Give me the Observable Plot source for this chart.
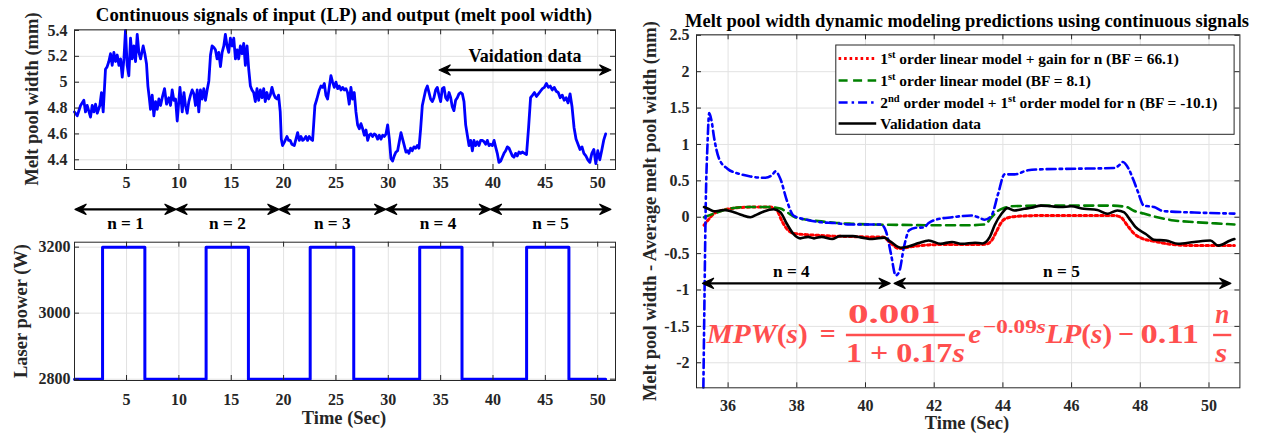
<!DOCTYPE html>
<html><head><meta charset="utf-8">
<script src="https://cdn.jsdelivr.net/npm/d3@7"></script>
<script src="https://cdn.jsdelivr.net/npm/@observablehq/plot@0.6"></script>
<style>
body{margin:0;background:#fff;}
#wrap{position:relative;width:1263px;height:439px;overflow:hidden;background:#fff;}
#wrap svg, #wrap svg g, #wrap svg text{font-family:"Liberation Serif","Times New Roman",serif !important;font-weight:bold;}
</style></head><body><div id="wrap"></div>
<script>
// ---------------- DATA ----------------
const leftTimeTicks = [5,10,15,20,25,30,35,40,45,50];
const widthTicks = [4.4,4.6,4.8,5,5.2,5.4];
const powerTicks = [2800,3000,3200];
const rightTimeTicks = [36,38,40,42,44,46,48,50];
const deviationTicks = [-2,-1.5,-1,-0.5,0,0.5,1,1.5,2,2.5];

// melt pool width (mm) vs time (s) : [time, width]
const meltPoolWidth = [
[0.03,4.77],[0.29,4.74],[0.61,4.82],[0.92,4.86],[1.08,4.77],[1.24,4.82],[1.56,4.73],[1.72,4.82],[1.88,4.77],[2.04,4.83],
[2.2,4.76],[2.45,4.82],[2.61,4.92],[2.77,4.77],[2.99,5.10],[3.15,5.12],[3.31,5.16],[3.47,5.22],[3.63,5.13],[3.79,5.23],
[3.95,5.16],[4.11,5.21],[4.27,5.13],[4.43,5.18],[4.59,5.04],[4.75,5.18],[4.9,5.40],[5.06,5.13],[5.22,5.05],[5.38,5.34],
[5.54,5.18],[5.7,5.28],[5.86,5.16],[6.02,5.37],[6.18,5.23],[6.34,5.18],[6.59,5.28],[6.75,5.22],[6.91,5.14],[7.04,4.97],
[7.17,4.88],[7.29,4.79],[7.45,4.90],[7.61,4.74],[7.77,4.85],[7.93,4.79],[8.09,4.87],[8.25,4.82],[8.41,4.88],[8.63,4.95],
[8.82,4.83],[9.04,4.88],[9.2,4.82],[9.36,4.94],[9.52,4.86],[9.68,4.87],[9.84,4.70],[10.1,4.96],
[10.32,4.77],[10.48,4.92],[10.63,4.82],[10.79,4.76],[10.95,4.85],[11.11,4.90],[11.27,4.94],[11.43,4.91],[11.59,4.82],[11.75,4.94],
[11.9,4.77],[12.06,4.94],[12.22,4.87],[12.38,4.95],[12.54,4.86],[12.7,4.94],[12.86,5.01],[13.02,5.21],[13.17,5.28],[13.33,5.27],
[13.49,5.25],[13.65,5.18],[13.81,5.23],[13.97,5.12],[14.13,5.23],[14.29,5.28],[14.44,5.37],[14.6,5.28],[14.76,5.23],[14.92,5.34],
[15.08,5.28],[15.24,5.34],[15.4,5.18],[15.56,5.25],[15.71,5.18],[15.87,5.28],[16.03,5.22],[16.19,5.30],[16.35,5.13],[16.51,5.28],
[16.67,5.10],[16.83,4.97],[16.98,4.94],[17.14,4.92],[17.3,4.85],[17.46,4.95],[17.62,4.86],[17.78,4.94],[17.94,4.88],[18.1,4.95],
[18.25,4.85],[18.41,4.92],[18.57,4.87],[18.73,4.90],[18.89,4.96],[19.05,4.91],[19.21,4.88],[19.37,4.87],[19.52,4.90],[19.68,4.77],
[19.78,4.56],[19.9,4.51],[20.1,4.54],[20.32,4.58],[20.48,4.55],[20.63,4.55],[20.79,4.52],
[21.02,4.51],[21.18,4.56],[21.34,4.61],[21.5,4.55],[21.66,4.58],[21.82,4.55],[21.97,4.56],[22.13,4.58],[22.29,4.55],[22.45,4.58],
[22.61,4.56],[22.77,4.55],[22.87,4.67],[22.99,4.82],[23.18,4.87],[23.41,4.94],[23.57,4.97],[23.73,4.96],[23.89,4.99],[24.04,4.90],
[24.2,4.87],[24.36,4.96],[24.52,5.05],[24.68,5.00],[24.84,4.96],[25.0,5.00],[25.16,4.95],[25.32,4.97],[25.48,4.94],[25.64,4.96],
[25.8,4.94],[25.96,4.95],[26.11,4.92],[26.27,4.83],[26.43,4.96],[26.59,4.87],[26.75,4.92],[26.91,4.77],[27.07,4.67],[27.23,4.64],
[27.39,4.68],[27.55,4.64],[27.71,4.59],[27.87,4.63],[28.03,4.55],[28.18,4.59],[28.34,4.60],[28.5,4.58],[28.66,4.60],[28.82,4.59],
[28.98,4.56],[29.14,4.59],[29.3,4.56],[29.46,4.59],[29.62,4.58],[29.78,4.60],[29.94,4.67],[30.1,4.56],[30.25,4.41],[30.41,4.39],
[30.57,4.43],[30.73,4.46],[30.89,4.47],[31.05,4.54],[31.21,4.61],[31.37,4.56],[31.53,4.51],[31.69,4.46],[31.85,4.47],
[31.97,4.45],[32.13,4.49],[32.29,4.47],[32.45,4.50],[32.61,4.49],[32.77,4.51],[32.93,4.49],[33.09,4.64],[33.25,4.82],[33.41,4.88],
[33.57,4.94],[33.73,4.97],[33.89,4.92],[34.04,4.87],[34.2,4.85],[34.36,4.88],[34.52,4.94],[34.68,4.96],[34.84,4.90],[35.0,4.85],
[35.16,4.95],[35.32,4.96],[35.48,4.88],[35.64,4.86],[35.8,4.92],[35.96,4.88],[36.11,4.81],[36.27,4.78],[36.43,4.86],[36.59,4.88],
[36.75,4.91],[36.91,4.92],[37.07,4.91],[37.23,4.85],[37.39,4.67],[37.55,4.59],[37.71,4.51],[37.87,4.55],[38.03,4.47],[38.18,4.55],
[38.34,4.51],[38.5,4.54],[38.66,4.51],[38.82,4.55],[38.98,4.55],[39.14,4.54],[39.3,4.52],[39.46,4.55],[39.62,4.51],[39.78,4.52],
[39.94,4.51],[40.1,4.55],[40.25,4.50],[40.41,4.45],[40.57,4.38],[40.73,4.39],[40.89,4.42],[41.05,4.45],[41.21,4.47],[41.37,4.50],
[41.53,4.49],[41.69,4.46],[41.85,4.43],[42.0,4.42],[42.16,4.45],[42.32,4.43],[42.48,4.46],[42.64,4.45],[42.8,4.46],
[43.2,4.44],[43.4,4.65],[43.59,4.88],[43.78,4.90],[43.96,4.92],[44.15,4.89],[44.34,4.91],[44.53,4.93],[44.72,4.95],[44.91,4.96],
[45.1,4.99],[45.29,4.96],[45.47,4.97],[45.66,4.94],[45.85,4.96],[46.04,4.93],[46.23,4.92],[46.42,4.88],[46.61,4.90],[46.8,4.86],
[46.98,4.88],[47.17,4.84],[47.36,4.91],[47.55,4.81],[47.74,4.65],[47.93,4.56],[48.12,4.52],[48.31,4.48],[48.5,4.50],[48.68,4.45],
[48.87,4.43],[49.06,4.40],[49.25,4.38],[49.44,4.45],[49.63,4.48],[49.82,4.37],[50.01,4.47],[50.2,4.40],[50.38,4.47],[50.57,4.55],
[50.76,4.60]
];

// laser power (W) change points : [time, power]
const laserPower = [[0.03,2800],[2.71,3200],[6.75,2800],[12.6,3200],[16.64,2800],[22.54,3200],[26.7,2800],[33.0,3200],[37.04,2800],[43.21,3200],[47.25,2800],[50.76,2800]];

// layer segments (time boundaries) and their labels
const layerBounds = [0.13, 9.77, 19.6, 29.8, 39.8, 51.3];
const layerLabels = ["n = 1","n = 2","n = 3","n = 4","n = 5"];
const validationSpan = [34.9, 51.3];
const validationLabel = "Vaidation data";
const rightLayerBounds = [35.27, 40.79, 50.65];
const rightLayerLabels = ["n = 4","n = 5"];

// right panel series : [time, deviation (mm)]
const modelGainN = [[35.3,-0.11],[35.45,-0.02],[35.59,0.05],[35.88,0.10],[36.26,0.13],[36.74,0.14],[37.23,0.14],[37.42,0.095],[37.56,-0.045],[37.71,-0.16],[37.9,-0.22],[38.29,-0.24],[38.67,-0.25],[39.06,-0.26],[39.5,-0.265],[40.0,-0.27],[40.5,-0.27],[40.74,-0.36],[40.98,-0.43],[41.27,-0.41],[41.84,-0.38],[42.33,-0.375],[42.8,-0.375],[43.3,-0.375],[43.5,-0.37],[43.67,-0.32],[43.81,-0.2],[43.96,-0.067],[44.15,-0.007],[44.54,0.016],[45.2,0.024],[46.2,0.024],[47.23,0.024],[47.43,0.0],[47.62,-0.11],[47.81,-0.22],[48.1,-0.3],[48.4,-0.33],[48.86,-0.37],[49.57,-0.39],[50.2,-0.39],[50.74,-0.39]];
const modelLinear = [[35.3,0.0],[35.59,0.05],[36.07,0.12],[36.55,0.14],[37.13,0.14],[37.52,0.12],[37.71,0.07],[37.95,0.0],[38.29,-0.035],[38.77,-0.06],[39.1,-0.076],[39.6,-0.09],[40.2,-0.1],[41.0,-0.105],[42.0,-0.11],[43.0,-0.11],[43.47,-0.1],[43.67,0.0],[43.86,0.09],[44.05,0.13],[44.25,0.15],[45.2,0.16],[46.2,0.16],[47.1,0.16],[47.6,0.14],[47.81,0.09],[48.1,0.05],[48.4,0.011],[48.98,-0.044],[49.57,-0.067],[50.2,-0.085],[50.74,-0.1]];
const modelSecondOrder = [[35.28,-2.34],[35.31,-1.2],[35.35,0.2],[35.4,1.0],[35.45,1.43],[35.52,1.32],[35.59,1.10],[35.74,0.80],[35.98,0.667],[36.32,0.597],[36.65,0.56],[37.09,0.542],[37.28,0.58],[37.38,0.63],[37.52,0.53],[37.71,0.23],[37.9,0.024],[38.29,-0.035],[38.67,-0.067],[39.1,-0.08],[39.54,-0.1],[40.45,-0.1],[40.6,-0.2],[40.74,-0.5],[40.88,-0.8],[40.98,-0.75],[41.12,-0.41],[41.27,-0.18],[41.46,-0.145],[41.7,-0.14],[41.84,-0.08],[42.04,-0.035],[42.52,0.0],[43.09,0.024],[43.28,0.0],[43.47,-0.035],[43.67,0.024],[43.86,0.32],[44.05,0.589],[44.34,0.589],[44.73,0.645],[45.21,0.66],[46.17,0.667],[47.23,0.676],[47.4,0.72],[47.49,0.76],[47.66,0.667],[47.81,0.5],[47.93,0.35],[48.1,0.16],[48.4,0.14],[48.66,0.085],[49.57,0.065],[50.74,0.05]];
const validationData = [[35.3,0.14],[35.45,0.11],[35.59,0.08],[35.88,0.1],[36.17,0.07],[36.4,0.03],[36.65,0.0],[36.85,0.04],[37.04,0.08],[37.33,0.11],[37.52,0.07],[37.71,-0.09],[37.9,-0.23],[38.1,-0.29],[38.33,-0.27],[38.5,-0.29],[38.72,-0.27],[39.03,-0.3],[39.25,-0.26],[39.63,-0.26],[39.9,-0.28],[40.2,-0.3],[40.54,-0.28],[40.74,-0.34],[41.03,-0.42],[41.27,-0.40],[41.55,-0.355],[41.84,-0.32],[42.18,-0.365],[42.52,-0.34],[42.81,-0.365],[43.19,-0.35],[43.4,-0.36],[43.62,-0.27],[43.76,-0.11],[43.96,0.047],[44.13,0.125],[44.34,0.093],[44.63,0.116],[44.83,0.13],[45.11,0.16],[45.4,0.15],[45.69,0.14],[45.98,0.15],[46.36,0.116],[46.75,0.1],[47.04,0.047],[47.33,0.093],[47.52,0.07],[47.71,-0.04],[47.85,-0.13],[48.16,-0.23],[48.4,-0.31],[48.75,-0.32],[49.1,-0.365],[49.57,-0.34],[50.04,-0.32],[50.27,-0.39],[50.62,-0.32],[50.74,-0.3]];

const legendEntries = [
  {base:"1", sup:"st", rest:" order linear model + gain for n (BF = 66.1)"},
  {base:"1", sup:"st", rest:" order linear model (BF = 8.1)"},
  {base:"2", sup:"nd", rest:" order model  + 1", sup2:"st", rest2:" order model for n (BF = -10.1)"},
  {base:"Validation data"}
];

// ---------------- STYLES ----------------
const FONT = '"Liberation Serif","Times New Roman",serif';
const GRID = "#e2e2e2";
const AX = "#262626";
const styles = {
  red:   {stroke:"#ff0000", strokeWidth:3, strokeDasharray:"2.6,2.9"},
  green: {stroke:"#008000", strokeWidth:2.6, strokeDasharray:"9,5.5"},
  blue:  {stroke:"#0000ff", strokeWidth:2.6, strokeDasharray:"9,4,2.5,4"},
  black: {stroke:"#000000", strokeWidth:2.6}
};
const seriesList = [
  {data: modelGainN, s: styles.red},
  {data: modelLinear, s: styles.green},
  {data: modelSecondOrder, s: styles.blue},
  {data: validationData, s: styles.black}
];

function inwardTicks(xt, yt, iw, ih, L = 5) {
  const s = {stroke: AX, strokeWidth: 1};
  return [
    Plot.tickX(xt, {x: d => d, insetTop: ih - L, ...s}),
    Plot.tickX(xt, {x: d => d, insetBottom: ih - L, ...s}),
    Plot.tickY(yt, {y: d => d, insetRight: iw - L, ...s}),
    Plot.tickY(yt, {y: d => d, insetLeft: iw - L, ...s})
  ];
}
function place(svg, left, top) {
  svg.style.position = "absolute";
  svg.style.left = left + "px";
  svg.style.top = top + "px";
  svg.style.background = "transparent";
  svg.style.overflow = "visible";
  svg.style.fontFamily = FONT;
  svg.style.fontWeight = "bold";
  svg.style.fontSize = "16px";
  svg.style.color = AX;
  svg.querySelectorAll("g, text").forEach(t => {
    t.removeAttribute("font-family");
    t.style.fontFamily = FONT;
    t.style.fontWeight = "bold";
    t.style.fontVariant = "normal";
  });
  svg.querySelectorAll("text").forEach(t => t.setAttribute("fill", AX));
  document.getElementById("wrap").appendChild(svg);
  return svg;
}
const fmt = d => String(d);
const plotStyle = `font-family:${FONT};font-size:16px;font-weight:bold;`;

// ---------- Panel A: melt pool width ----------
const A = {left:0, top:0, w:630, h:200, ml:74, mr:15, mt:29.3, mb:31};
const Aiw = A.w - A.ml - A.mr, Aih = A.h - A.mt - A.mb;
const plotA = Plot.plot({
  width:A.w, height:A.h, marginLeft:A.ml, marginRight:A.mr, marginTop:A.mt, marginBottom:A.mb,
  style:plotStyle,
  x:{domain:[0.03,51.7], ticks:leftTimeTicks, tickSize:0, tickPadding:7.5, tickFormat:fmt, label:null},
  y:{domain:[4.325,5.405], ticks:widthTicks, tickSize:0, tickPadding:7, tickFormat:fmt, label:null},
  marks:[
    Plot.ruleX(leftTimeTicks, {stroke:GRID}),
    Plot.ruleY(widthTicks, {stroke:GRID}),
    Plot.line(meltPoolWidth, {x:d=>d[0], y:d=>d[1], stroke:"#0000ff", strokeWidth:2.8, strokeLinejoin:"round"}),
    ...inwardTicks(leftTimeTicks, widthTicks, Aiw, Aih),
    Plot.frame({stroke:AX, strokeWidth:1})
  ]
});
place(plotA, A.left, A.top);

// ---------- Panel B: laser power ----------
const B = {left:0, top:190, w:630, h:249, ml:74, mr:15, mt:51.7, mb:59};
const Biw = B.w - B.ml - B.mr, Bih = B.h - B.mt - B.mb;
const plotB = Plot.plot({
  width:B.w, height:B.h, marginLeft:B.ml, marginRight:B.mr, marginTop:B.mt, marginBottom:B.mb,
  style:plotStyle,
  x:{domain:[0.03,51.7], ticks:leftTimeTicks, tickSize:0, tickPadding:13.5, tickFormat:fmt, label:null},
  y:{domain:[2796,3215], ticks:powerTicks, tickSize:0, tickPadding:4, tickFormat:fmt, label:null},
  marks:[
    Plot.ruleX(leftTimeTicks, {stroke:GRID}),
    Plot.ruleY(powerTicks, {stroke:GRID}),
    Plot.line(laserPower, {x:d=>d[0], y:d=>d[1], curve:"step-after", stroke:"#0000ff", strokeWidth:3}),
    ...inwardTicks(leftTimeTicks, powerTicks, Biw, Bih),
    Plot.frame({stroke:AX, strokeWidth:1})
  ]
});
place(plotB, B.left, B.top);

// ---------- Panel C: model predictions ----------
const C = {left:630, top:0, w:633, h:439, ml:66, mr:23.6, mt:34.3, mb:51.7};
const Ciw = C.w - C.ml - C.mr, Cih = C.h - C.mt - C.mb;
const plotC = Plot.plot({
  width:C.w, height:C.h, marginLeft:C.ml, marginRight:C.mr, marginTop:C.mt, marginBottom:C.mb,
  style:plotStyle,
  x:{domain:[35.08,50.9], ticks:rightTimeTicks, tickSize:0, tickPadding:11.4, tickFormat:fmt, label:null},
  y:{domain:[-2.344,2.507], ticks:deviationTicks, tickSize:0, tickPadding:7, tickFormat:fmt, label:null},
  marks:[
    Plot.ruleX(rightTimeTicks, {stroke:GRID}),
    Plot.ruleY(deviationTicks, {stroke:GRID}),
    ...seriesList.map(({data, s}) => Plot.line(data, {x:d=>d[0], y:d=>d[1], curve:"monotone-x", ...s})),
    ...inwardTicks(rightTimeTicks, deviationTicks, Ciw, Cih),
    Plot.frame({stroke:AX, strokeWidth:1})
  ]
});
place(plotC, C.left, C.top);

// ---------------- OVERLAY (titles, labels, arrows, legend, equation) ----------------
function mapX(plot, v) {
  const s = plot.scale("x");
  if (s && typeof s.apply === "function") return s.apply(v);
  const [d0, d1] = s.domain, [r0, r1] = s.range;
  return r0 + (v - d0) / (d1 - d0) * (r1 - r0);
}
const ov = d3.select("#wrap").append("svg")
  .attr("width", 1263).attr("height", 439)
  .style("position", "absolute").style("left", "0px").style("top", "0px")
  .attr("font-family", FONT).attr("font-weight", "bold").attr("fill", "#000");

function text(x, y, str, size, anchor = "middle") {
  return ov.append("text").attr("x", x).attr("y", y).attr("font-size", size)
    .attr("text-anchor", anchor).text(str);
}
function vtext(cx, cy, str, size) {
  ov.append("text").attr("transform", `translate(${cx},${cy}) rotate(-90)`)
    .attr("x", 0).attr("y", 0.33 * size).attr("font-size", size).attr("text-anchor", "middle")
    .attr("fill", AX).text(str);
}
function head(x, y, dir) {
  const L = 11, H = 5, back = 7;
  ov.append("path")
    .attr("d", `M${x},${y}L${x - dir * L},${y - H}L${x - dir * back},${y}L${x - dir * L},${y + H}Z`)
    .attr("fill", "#000").attr("stroke", "#000").attr("stroke-width", 1.3).attr("stroke-linejoin", "round");
}
function dblArrow(x1, x2, y) {
  ov.append("line").attr("x1", x1 + 4).attr("x2", x2 - 4).attr("y1", y).attr("y2", y)
    .attr("stroke", "#000").attr("stroke-width", 2.3);
  head(x2, y, 1); head(x1, y, -1);
}

// Panel A/B texts
text(344, 21, "Continuous signals of input (LP) and output (melt pool width)", 18.8);
vtext(31.6, 99, "Melt pool width (mm)", 18.5);
vtext(21, 311, "Laser power (W)", 18.5);
text(344, 423.5, "Time (Sec)", 18.5).attr("fill", AX);
text((mapX(plotA, validationSpan[0]) + mapX(plotA, validationSpan[1])) / 2 + A.left, 61.7, validationLabel, 18);
dblArrow(mapX(plotA, validationSpan[0]) + A.left, mapX(plotA, validationSpan[1]) + A.left, 70);
for (let i = 0; i < layerLabels.length; i++) {
  const x1 = mapX(plotB, layerBounds[i]) + B.left, x2 = mapX(plotB, layerBounds[i + 1]) + B.left;
  dblArrow(x1, x2, 209.3);
  text((x1 + x2) / 2, 229.3, layerLabels[i], 17.3);
}

// Panel C texts
text(967, 27, "Melt pool width dynamic modeling predictions using continuous signals", 18.5);
vtext(650, 211, "Melt pool width - Average melt pool width (mm)", 18.5);
text(967, 429, "Time (Sec)", 18.5).attr("fill", AX);
for (let i = 0; i < rightLayerLabels.length; i++) {
  const x1 = mapX(plotC, rightLayerBounds[i]) + C.left, x2 = mapX(plotC, rightLayerBounds[i + 1]) + C.left;
  dblArrow(x1 + (i === 1 ? 2 : 0), x2 - (i === 0 ? 2 : 0), 283.3);
  text((x1 + x2) / 2 + (i === 0 ? -6 : 0), 277, rightLayerLabels[i], 17.3);
}

// legend
const lg = {x:835.8, y:45, w:398.3, h:89.3};
ov.append("rect").attr("x", lg.x).attr("y", lg.y).attr("width", lg.w).attr("height", lg.h)
  .attr("fill", "#fff").attr("stroke", AX).attr("stroke-width", 1);
const rowY = [58.5, 80.5, 102.5, 123.5];
legendEntries.forEach((e, i) => {
  const s = seriesList[i].s;
  const ln = ov.append("line").attr("x1", 838.6).attr("x2", 876.2).attr("y1", rowY[i]).attr("y2", rowY[i])
    .attr("stroke", s.stroke).attr("stroke-width", s.strokeWidth);
  if (s.strokeDasharray) ln.attr("stroke-dasharray", s.strokeDasharray);
  const t = ov.append("text").attr("x", 880.2).attr("y", rowY[i] + 5.5).attr("font-size", 15.4);
  t.append("tspan").text(e.base);
  if (e.sup) {
    t.append("tspan").attr("dy", -6).attr("font-size", 10.5).text(e.sup);
    t.append("tspan").attr("dy", 6).text(e.rest);
  }
  if (e.sup2) {
    t.append("tspan").attr("dy", -6).attr("font-size", 10.5).text(e.sup2);
    t.append("tspan").attr("dy", 6).text(e.rest2);
  }
});

// equation
const EQ = "#ff4f4f";
function eq(x, y, parts, size, len) {
  const t = ov.append("text").attr("x", x).attr("y", y).attr("font-size", size).attr("fill", EQ);
  parts.forEach(([s, it]) => t.append("tspan").attr("font-style", it ? "italic" : "normal").text(s));
  if (len) t.attr("textLength", len).attr("lengthAdjust", "spacingAndGlyphs");
  return t;
}
function bar(x1, x2, y) {
  ov.append("line").attr("x1", x1).attr("x2", x2).attr("y1", y).attr("y2", y)
    .attr("stroke", EQ).attr("stroke-width", 2.4);
}
eq(706.7, 343.3, [["MPW", true], ["(", false], ["s", true], [")", false]], 28, 101);
eq(819.7, 343.3, [["=", false]], 28, 16);
eq(847.9, 322.7, [["0.001", false]], 28, 92.8);
bar(845.9, 964.9, 335);
eq(845.9, 361.7, [["1 + 0.17", false], ["s", true]], 28, 119);
eq(968.2, 343.3, [["e", true]], 28, 12.9);
eq(983.1, 332.7, [["\u22120.09", false], ["s", true]], 19, 62.6);
eq(1045.7, 343.3, [["LP", true], ["(", false], ["s", true], [")", false]], 28, 66.5);
eq(1118.3, 343.3, [["\u2212", false]], 28, 16);
eq(1140.5, 343.3, [["0.11", false]], 28, 58.5);
eq(1215.2, 322.7, [["n", true]], 28, 14);
bar(1213.1, 1231.3, 335);
eq(1215.2, 361.7, [["s", true]], 28, 12);
</script>
</body></html>
